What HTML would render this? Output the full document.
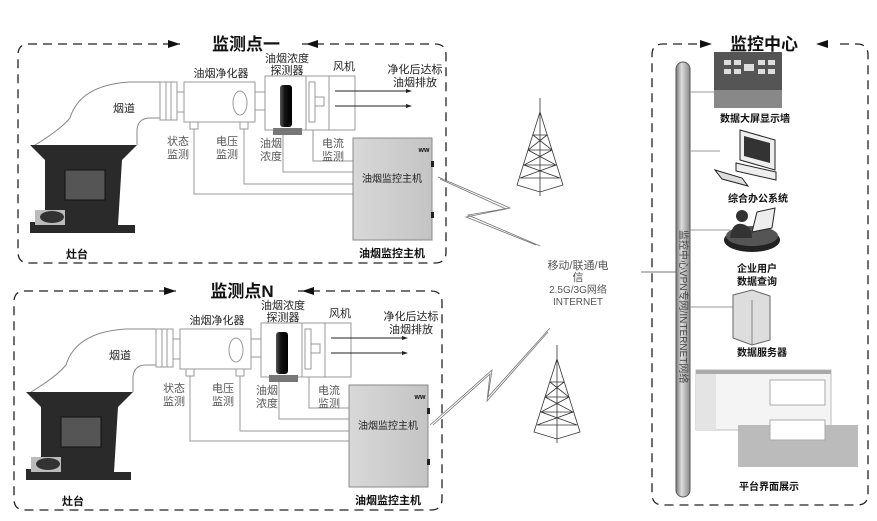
<!DOCTYPE html>
<html><head><meta charset="utf-8"><style>
html,body{margin:0;padding:0;background:#fff}
svg{display:block}
text{font-family:"Liberation Sans","Noto Sans CJK SC",sans-serif;fill:#222;font-size:11px;text-anchor:middle}
.t{font-size:17px;font-weight:bold;fill:#111}
.b{font-weight:bold;fill:#111}
.g{fill:#555}
</style></head><body>
<svg width="877" height="521" viewBox="0 0 877 521" xmlns="http://www.w3.org/2000/svg">
<defs>
<linearGradient id="cyl" x1="0" x2="1"><stop offset="0" stop-color="#555"/><stop offset=".4" stop-color="#111"/><stop offset="1" stop-color="#000"/></linearGradient>
<linearGradient id="pipe" x1="0" x2="1"><stop offset="0" stop-color="#777"/><stop offset=".4" stop-color="#ddd"/><stop offset="1" stop-color="#888"/></linearGradient>
<linearGradient id="boxg" x1="0" x2="1"><stop offset="0" stop-color="#d8d8d8"/><stop offset="1" stop-color="#c4c4c4"/></linearGradient>
</defs>

<!-- Panel 1 -->
<g id="p1">
<path d="M300 44 H435 Q446 44 446 55 V252 Q446 263 435 263 H29 Q18 263 18 252 V55 Q18 44 29 44 H180" fill="none" stroke="#222" stroke-width="1.3" stroke-dasharray="9,6"/>
<rect x="190" y="34" width="112" height="20" fill="#fff"/>
<polygon points="168,40 180,44 168,48" fill="#111"/>
<polygon points="318,40 306,44 318,48" fill="#111"/>
<text x="246" y="50" class="t">监测点一</text>
<!-- duct -->
<path d="M35 145 Q60 130 70 118 Q80 85 130 82 H160" fill="none" stroke="#888" stroke-width="1"/>
<path d="M137 145 V130 Q138 118 150 118 H160" fill="none" stroke="#888" stroke-width="1"/>
<rect x="160" y="82" width="17" height="38" fill="#fff" stroke="#999"/>
<line x1="166" y1="82" x2="166" y2="120" stroke="#999"/><line x1="171" y1="82" x2="171" y2="120" stroke="#999"/>
<rect x="177" y="92" width="7" height="20" fill="#fff" stroke="#999"/>
<rect x="184" y="82" width="71" height="40" fill="#fff" stroke="#999"/>
<ellipse cx="240" cy="103" rx="7" ry="12" fill="#fff" stroke="#999"/>
<rect x="255" y="92" width="10" height="18" fill="#fff" stroke="#999"/>
<rect x="190" y="122" width="8" height="7" fill="#fff" stroke="#999"/>
<rect x="240" y="122" width="8" height="7" fill="#fff" stroke="#999"/>
<rect x="265" y="76" width="41" height="54" fill="#fff" stroke="#999"/>
<rect x="273" y="128" width="29" height="7" fill="#777"/>
<rect x="280" y="85" width="12" height="42" rx="3" fill="url(#cyl)"/>
<rect x="306" y="76" width="49" height="54" fill="#fff" stroke="#999"/>
<rect x="309" y="82" width="6" height="40" fill="#fff" stroke="#999"/>
<rect x="315" y="97" width="9" height="9" fill="#fff" stroke="#999"/>
<line x1="329" y1="76" x2="329" y2="130" stroke="#999"/>
<line x1="335" y1="91" x2="410" y2="91" stroke="#222"/><polygon points="412,91 406,89 406,93" fill="#222"/>
<line x1="335" y1="106" x2="410" y2="106" stroke="#222"/><polygon points="412,106 406,104 406,108" fill="#222"/>
<!-- wires -->
<path d="M194 129 V194 H353 M244 129 V184 H353 M283 135 V172 H353 M313 130 V161 H353" fill="none" stroke="#999"/>
<!-- stove -->
<polygon points="30,145 137,145 122,160 118,225 135,225 135,233 30,233 30,222 45,222 45,160" fill="#2a2a2a"/>
<rect x="65" y="170" width="40" height="30" fill="#555" stroke="#111"/>
<rect x="35" y="210" width="30" height="15" fill="#bbb"/>
<ellipse cx="52" cy="217" rx="12" ry="6" fill="#333"/>
<!-- control box -->
<rect x="353" y="138" width="79" height="102" fill="url(#boxg)" stroke="#888"/>
<text x="392" y="182" style="font-size:10px">油烟监控主机</text>
<text x="424" y="152" style="font-size:7px" class="b">ww</text>
<rect x="431" y="161" width="3" height="6" fill="#222"/><rect x="431" y="212" width="3" height="6" fill="#222"/>
<text x="221" y="77">油烟净化器</text>
<text x="287" y="62">油烟浓度</text>
<text x="287" y="74">探测器</text>
<text x="344" y="70">风机</text>
<text x="415" y="73">净化后达标</text>
<text x="415" y="86">油烟排放</text>
<text x="124" y="112">烟道</text>
<text x="178" y="145" class="g">状态</text><text x="178" y="158" class="g">监测</text>
<text x="227" y="145" class="g">电压</text><text x="227" y="158" class="g">监测</text>
<text x="271" y="147" class="g">油烟</text><text x="271" y="160" class="g">浓度</text>
<text x="333" y="147" class="g">电流</text><text x="333" y="160" class="g">监测</text>
<text x="77" y="258" class="b">灶台</text>
<text x="392" y="257" class="b">油烟监控主机</text>
</g>

<!-- Panel 2 -->
<g transform="translate(-4,247)">
<path d="M300 44 H435 Q446 44 446 55 V252 Q446 263 435 263 H29 Q18 263 18 252 V55 Q18 44 29 44 H180" fill="none" stroke="#222" stroke-width="1.3" stroke-dasharray="9,6"/>
<rect x="190" y="34" width="112" height="20" fill="#fff"/>
<polygon points="168,40 180,44 168,48" fill="#111"/>
<polygon points="318,40 306,44 318,48" fill="#111"/>
<text x="246" y="50" class="t">监测点N</text>
<path d="M35 145 Q60 130 70 118 Q80 85 130 82 H160" fill="none" stroke="#888" stroke-width="1"/>
<path d="M137 145 V130 Q138 118 150 118 H160" fill="none" stroke="#888" stroke-width="1"/>
<rect x="160" y="82" width="17" height="38" fill="#fff" stroke="#999"/>
<line x1="166" y1="82" x2="166" y2="120" stroke="#999"/><line x1="171" y1="82" x2="171" y2="120" stroke="#999"/>
<rect x="177" y="92" width="7" height="20" fill="#fff" stroke="#999"/>
<rect x="184" y="82" width="71" height="40" fill="#fff" stroke="#999"/>
<ellipse cx="240" cy="103" rx="7" ry="12" fill="#fff" stroke="#999"/>
<rect x="255" y="92" width="10" height="18" fill="#fff" stroke="#999"/>
<rect x="190" y="122" width="8" height="7" fill="#fff" stroke="#999"/>
<rect x="240" y="122" width="8" height="7" fill="#fff" stroke="#999"/>
<rect x="265" y="76" width="41" height="54" fill="#fff" stroke="#999"/>
<rect x="273" y="128" width="29" height="7" fill="#777"/>
<rect x="280" y="85" width="12" height="42" rx="3" fill="url(#cyl)"/>
<rect x="306" y="76" width="49" height="54" fill="#fff" stroke="#999"/>
<rect x="309" y="82" width="6" height="40" fill="#fff" stroke="#999"/>
<rect x="315" y="97" width="9" height="9" fill="#fff" stroke="#999"/>
<line x1="329" y1="76" x2="329" y2="130" stroke="#999"/>
<line x1="335" y1="91" x2="410" y2="91" stroke="#222"/><polygon points="412,91 406,89 406,93" fill="#222"/>
<line x1="335" y1="106" x2="410" y2="106" stroke="#222"/><polygon points="412,106 406,104 406,108" fill="#222"/>
<path d="M194 129 V194 H353 M244 129 V184 H353 M283 135 V172 H353 M313 130 V161 H353" fill="none" stroke="#999"/>
<polygon points="30,145 137,145 122,160 118,225 135,225 135,233 30,233 30,222 45,222 45,160" fill="#2a2a2a"/>
<rect x="65" y="170" width="40" height="30" fill="#555" stroke="#111"/>
<rect x="35" y="210" width="30" height="15" fill="#bbb"/>
<ellipse cx="52" cy="217" rx="12" ry="6" fill="#333"/>
<rect x="353" y="138" width="79" height="102" fill="url(#boxg)" stroke="#888"/>
<text x="392" y="182" style="font-size:10px">油烟监控主机</text>
<text x="424" y="152" style="font-size:7px" class="b">ww</text>
<rect x="431" y="161" width="3" height="6" fill="#222"/><rect x="431" y="212" width="3" height="6" fill="#222"/>
<text x="221" y="77">油烟净化器</text>
<text x="287" y="62">油烟浓度</text>
<text x="287" y="74">探测器</text>
<text x="344" y="70">风机</text>
<text x="415" y="73">净化后达标</text>
<text x="415" y="86">油烟排放</text>
<text x="124" y="112">烟道</text>
<text x="178" y="145" class="g">状态</text><text x="178" y="158" class="g">监测</text>
<text x="227" y="145" class="g">电压</text><text x="227" y="158" class="g">监测</text>
<text x="271" y="147" class="g">油烟</text><text x="271" y="160" class="g">浓度</text>
<text x="333" y="147" class="g">电流</text><text x="333" y="160" class="g">监测</text>
<text x="77" y="258" class="b">灶台</text>
<text x="392" y="257" class="b">油烟监控主机</text>
</g>

<!-- towers -->
<g stroke="#333" stroke-width="0.8" fill="none">
<path d="M540 98 V196 M540 112 L517 185 L540 192 L563 185 L540 112 M533 135 L547 135 M528 150 L552 150 M524 165 L556 165 M520 178 L560 178 M533 135 L552 150 L524 165 L560 178 M547 135 L528 150 L556 165 L520 178"/>
<path d="M557 345 V443 M557 359 L534 432 L557 439 L580 432 L557 359 M550 382 L564 382 M545 397 L569 397 M541 412 L573 412 M537 425 L577 425 M550 382 L569 397 L541 412 L577 425 M564 382 L545 397 L573 412 L537 425"/>
</g>
<g stroke="#777" stroke-width="0.8" fill="none">
<path d="M438 177 L510 208 L468 215 L540 246 M440 179 L506 209 L466 217 L536 245"/>
<path d="M430 425 L492 370 L488 397 L550 328 M433 425 L490 374 L487 401 L548 332"/>
</g>
<text x="578" y="269" class="g">移动/联通/电</text>
<text x="578" y="281" class="g">信</text>
<text x="578" y="293" class="g" style="font-size:10px">2.5G/3G网络</text>
<text x="578" y="305" class="g" style="font-size:10px">INTERNET</text>
<line x1="641" y1="272" x2="680" y2="272" stroke="#777"/>

<!-- right panel -->
<path d="M840 44 H857 Q868 44 868 55 V494 Q868 505 857 505 H663 Q652 505 652 494 V55 Q652 44 663 44 H700" fill="none" stroke="#222" stroke-width="1.3" stroke-dasharray="9,6"/>
<polygon points="700,40 712,44 700,48" fill="#111"/>
<polygon points="828,40 816,44 828,48" fill="#111"/>
<text x="764" y="50" class="t">监控中心</text>
<rect x="676" y="62" width="14" height="435" rx="7" fill="url(#pipe)" stroke="#555"/>
<text transform="translate(680,230) rotate(90)" style="font-size:10px;text-anchor:start;fill:#444">监控中心VPN专网/INTERNET网络</text>
<g stroke="#999"><line x1="690" y1="92" x2="714" y2="92"/><line x1="690" y1="151" x2="720" y2="151"/><line x1="690" y1="230" x2="730" y2="230"/><line x1="690" y1="307" x2="733" y2="307"/></g>
<!-- screen wall -->
<rect x="714" y="52" width="68" height="56" fill="#555"/>
<rect x="714" y="90" width="68" height="18" fill="#888"/>
<g fill="#ddd"><rect x="724" y="60" width="7" height="5"/><rect x="734" y="60" width="7" height="5"/><rect x="744" y="64" width="10" height="7"/><rect x="758" y="60" width="7" height="5"/><rect x="768" y="60" width="7" height="5"/><rect x="724" y="69" width="7" height="5"/><rect x="734" y="69" width="7" height="5"/><rect x="758" y="69" width="7" height="5"/><rect x="768" y="69" width="7" height="5"/></g>
<text x="755" y="122" class="b" style="font-size:10px">数据大屏显示墙</text>
<!-- computer -->
<polygon points="740,130 775,140 775,170 740,160" fill="#eee" stroke="#222"/>
<polygon points="744,136 770,143 770,163 744,156" fill="#333"/>
<polygon points="736,163 776,172 776,180 736,171" fill="#eee" stroke="#222"/>
<polygon points="715,170 742,178 748,186 722,179" fill="#ddd" stroke="#222"/>
<text x="758" y="202" class="b" style="font-size:10px">综合办公系统</text>
<!-- user -->
<ellipse cx="752" cy="240" rx="28" ry="12" fill="#222"/>
<ellipse cx="752" cy="236" rx="26" ry="10" fill="#555"/>
<circle cx="742" cy="216" r="6" fill="#333"/>
<path d="M730 238 Q732 222 742 224 Q752 226 752 238Z" fill="#333"/>
<polygon points="757,212 775,208 772,228 752,232" fill="#eee" stroke="#222"/>
<text x="757" y="272" class="b" style="font-size:10px">企业用户</text>
<text x="757" y="285" class="b" style="font-size:10px">数据查询</text>
<!-- server -->
<polygon points="733,295 752,290 770,296 770,340 752,345 733,338" fill="#ddd" stroke="#666"/>
<line x1="752" y1="300" x2="752" y2="345" stroke="#888"/>
<text x="762" y="356" class="b" style="font-size:10px">数据服务器</text>
<!-- screenshots -->
<rect x="696" y="370" width="135" height="60" fill="#f4f4f4" stroke="#bbb"/>
<rect x="696" y="370" width="135" height="4" fill="#aaa"/>
<rect x="696" y="374" width="20" height="56" fill="#e4e4e4"/>
<rect x="770" y="380" width="55" height="25" fill="#fff" stroke="#aaa"/>
<rect x="738" y="425" width="120" height="42" fill="#bbb"/>
<rect x="770" y="420" width="55" height="20" fill="#fff" stroke="#aaa"/>
<text x="769" y="490" class="b" style="font-size:10px">平台界面展示</text>
</svg>
</body></html>
